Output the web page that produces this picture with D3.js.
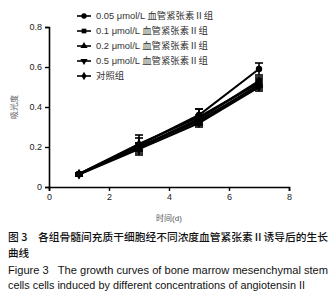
<!DOCTYPE html>
<html><head><meta charset="utf-8">
<script src="https://cdn.jsdelivr.net/npm/d3@7"></script>
<style>body{margin:0;background:#fff}svg{display:block}</style>
</head><body>
<script>
const days = [1, 3, 5, 7];
const seriesNames = ["0.05 μmol/L 血管紧张素Ⅱ组","0.1 μmol/L 血管紧张素Ⅱ组","0.2 μmol/L 血管紧张素Ⅱ组","0.5 μmol/L 血管紧张素Ⅱ组","对照组"];
const s005 = [0.065, 0.21, 0.36, 0.59];
const s01 = [0.065, 0.20, 0.34, 0.53];
const s02 = [0.063, 0.20, 0.33, 0.51];
const s05 = [0.062, 0.19, 0.32, 0.50];
const sCtrl = [0.065, 0.215, 0.35, 0.52];
const err005 = [0.006, 0.05, 0.03, 0.03];
const err01 = [0.005, 0.02, 0.02, 0.02];
const err02 = [0.005, 0.02, 0.02, 0.02];
const err05 = [0.005, 0.02, 0.02, 0.02];
const errCtrl = [0.005, 0.03, 0.04, 0.02];
const xTicks = [0, 2, 4, 6, 8];
const yTicks = [0, 0.2, 0.4, 0.6, 0.8];
const symbols = [d3.symbolCircle, d3.symbolSquare, d3.symbolTriangle, "down", d3.symbolDiamond];

const seriesVals = [s005, s01, s02, s05, sCtrl];
const seriesErr = [err005, err01, err02, err05, errCtrl];

const W = 336, H = 297;
const svg = d3.select("body").append("svg").attr("width", W).attr("height", H);
const x = d3.scaleLinear().domain([0, 8]).range([49, 289]);
const y = d3.scaleLinear().domain([0, 0.8]).range([187, 27]);
const font = "Liberation Sans, Arial, Noto Sans CJK SC, sans-serif";

const xAxis = svg.append("g").attr("transform", `translate(0,${y(0)})`)
  .call(d3.axisBottom(x).tickValues(xTicks).tickSize(4).tickPadding(3).tickFormat(d3.format("d")));
const yAxis = svg.append("g").attr("transform", `translate(${x(0)},0)`)
  .call(d3.axisLeft(y).tickValues(yTicks).tickSize(4).tickPadding(3).tickFormat(d => d === 0 ? "0" : d3.format(".1f")(d)));
[xAxis, yAxis].forEach(a => {
  a.select(".domain").attr("stroke", "#000").attr("stroke-width", 1.6);
  a.selectAll(".tick line").attr("stroke", "#000").attr("stroke-width", 1.4);
  a.selectAll(".tick text").attr("font-family", font).attr("font-size", 9).attr("fill", "#222");
});

function symPath(s, size) {
  if (s === "down") return d3.symbol().type(d3.symbolTriangle).size(size)() ;
  return d3.symbol().type(s).size(size)();
}

const line = d3.line().x((d, i) => x(days[i])).y(d => y(d));
seriesVals.forEach((vals, k) => {
  svg.append("path").datum(vals).attr("d", line).attr("fill", "none")
    .attr("stroke", "#000").attr("stroke-width", 2.1);
});
seriesVals.forEach((vals, k) => {
  const g = svg.append("g");
  vals.forEach((v, i) => {
    const e = seriesErr[k][i];
    const cx = x(days[i]);
    g.append("line").attr("x1", cx).attr("x2", cx).attr("y1", y(v - e)).attr("y2", y(v + e)).attr("stroke", "#000").attr("stroke-width", 1.6);
    [v - e, v + e].forEach(t => g.append("line").attr("x1", cx - 4).attr("x2", cx + 4).attr("y1", y(t)).attr("y2", y(t)).attr("stroke", "#000").attr("stroke-width", 1.6));
    g.append("path").attr("d", symPath(symbols[k], 32))
      .attr("transform", `translate(${cx},${y(v)})` + (symbols[k] === "down" ? " rotate(180)" : ""))
      .attr("fill", "#000");
  });
});

// legend
const leg = svg.append("g");
seriesNames.forEach((name, k) => {
  const ly = 16 + k * 15;
  leg.append("line").attr("x1", 77).attr("x2", 91).attr("y1", ly).attr("y2", ly).attr("stroke", "#000").attr("stroke-width", 1.6);
  leg.append("path").attr("d", symPath(symbols[k], 22))
    .attr("transform", `translate(84,${ly})` + (symbols[k] === "down" ? " rotate(180)" : ""))
    .attr("fill", "#000");
  leg.append("text").attr("x", 96).attr("y", ly + 3.3).attr("font-family", font).attr("font-size", 9.4)
    .attr("fill", "#333").text(name);
});

// axis titles
svg.append("text").attr("transform", "translate(17,107) rotate(-90)").attr("text-anchor", "middle")
  .attr("font-family", "Noto Sans CJK SC, sans-serif").attr("font-size", 8).attr("fill", "#666").text("吸光度");
svg.append("text").attr("x", 169).attr("y", 221).attr("text-anchor", "middle")
  .attr("font-family", font).attr("font-size", 8).attr("fill", "#555").text("时间(d)");

// caption
const cap = [
  {t: "图 3　各组骨髓间充质干细胞经不同浓度血管紧张素Ⅱ诱导后的生长", y: 241, len: 320, f: "Noto Sans CJK SC, sans-serif", s: 10.5, w: 500},
  {t: "曲线", y: 257, len: null, f: "Noto Sans CJK SC, sans-serif", s: 10.5, w: 500},
  {t: "Figure 3   The growth curves of bone marrow mesenchymal stem", y: 274, len: 320, f: font, s: 10.3, w: 400},
  {t: "cells cells induced by different concentrations of angiotensin II", y: 289, len: 297, f: font, s: 10.3, w: 400}
];
cap.forEach(c => {
  const t = svg.append("text").attr("x", 8).attr("y", c.y).attr("font-family", c.f).attr("font-size", c.s)
    .attr("font-weight", c.w).attr("fill", "#111").attr("xml:space", "preserve").style("white-space", "pre").text(c.t);
  if (c.len) t.attr("textLength", c.len).attr("lengthAdjust", "spacingAndGlyphs");
});
</script>
</body></html>
